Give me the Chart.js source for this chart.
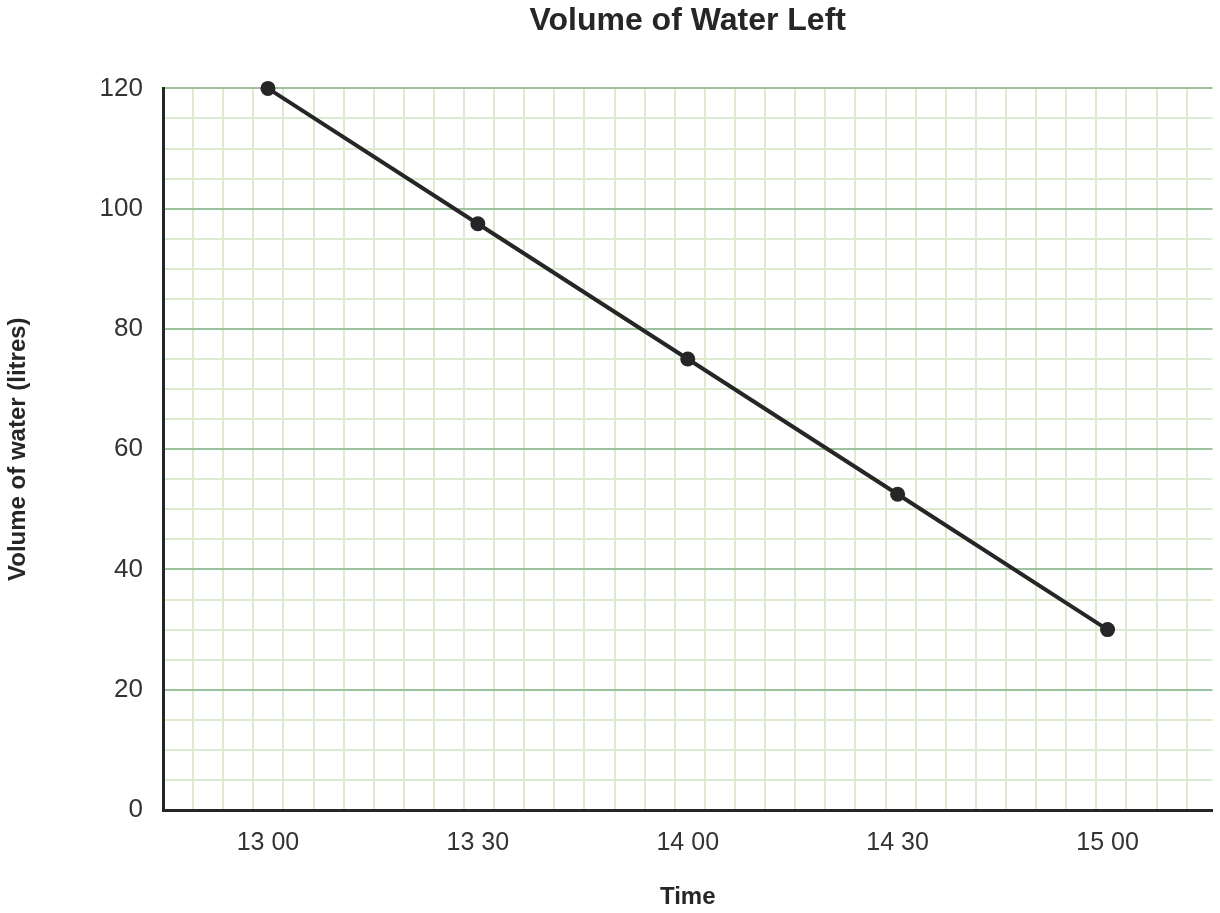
<!DOCTYPE html>
<html>
<head>
<meta charset="utf-8">
<title>Volume of Water Left</title>
<script src="https://cdn.jsdelivr.net/npm/chart.js@4.4.1/dist/chart.umd.min.js"></script>
<style>
  html, body { margin: 0; padding: 0; background: #ffffff; }
  #wrap { width: 1220px; height: 913px; position: relative; }
</style>
</head>
<body>
<div id="wrap"><canvas id="grafica"></canvas></div>
<script>
// datos de la grafica
const tiempos = ["13 00", "13 30", "14 00", "14 30", "15 00"];
const volumen = [120, 97.5, 75, 52.5, 30];
const yTicks = [0, 20, 40, 60, 80, 100, 120];

const VERDE_FUERTE = "#9cc39c";
const VERDE_SUAVE = "#dcebd0";
const NEGRO = "#262626";
const FUENTE = "'Liberation Sans', Arial, sans-serif";

function grafica_agua(id) {
  let chart = new Chart(id, {
    type: "line",
    data: {
      labels: tiempos,
      datasets: [
        {
          label: "Volume of water",
          data: volumen,
          borderColor: NEGRO,
          backgroundColor: NEGRO,
          borderWidth: 4,
          pointRadius: 7.5,
          pointBackgroundColor: NEGRO,
          pointBorderWidth: 0,
          tension: 0,
          clip: false,
          xAxisID: "x",
          yAxisID: "y",
        },
      ],
    },
    options: {
      responsive: true,
      maintainAspectRatio: false,
      animation: false,
      layout: { padding: { left: 0, right: 6, top: 0, bottom: 0 } },
      plugins: {
        legend: { display: false },
        tooltip: { enabled: false },
        title: {
          display: true,
          text: "Volume of Water Left",
          fullSize: false,
          color: NEGRO,
          font: { family: FUENTE, size: 32, weight: "bold" },
          padding: { top: 2, bottom: 48 },
        },
      },
      scales: {
        x: {
          type: "category",
          position: "bottom",
          offset: true,
          grid: { display: false, drawTicks: false },
          border: { display: true, color: NEGRO, width: 3 },
          ticks: {
            color: "#333333",
            padding: 18,
            font: { family: FUENTE, size: 25 },
          },
          title: {
            display: true,
            text: "Time",
            color: NEGRO,
            font: { family: FUENTE, size: 24, weight: "bold" },
            padding: { top: 0, bottom: 1 },
          },
          afterFit: function (scale) {
            scale.height = 103;
          },
        },
        // solo para la cuadricula vertical (34 cuadros de ~30px)
        xg: {
          type: "linear",
          position: "bottom",
          min: 0,
          max: 34.86,
          grid: { color: VERDE_SUAVE, lineWidth: 2, drawTicks: false },
          border: { display: false },
          ticks: { display: false, autoSkip: false },
          afterBuildTicks: function (scale) {
            let t = [];
            for (let k = 0; k <= 34; k++) t.push({ value: k });
            scale.ticks = t;
          },
          afterFit: function (scale) {
            scale.height = 0;
          },
        },
        y: {
          min: 0,
          max: 120,
          grid: {
            drawTicks: false,
            lineWidth: 2,
            color: (ctx) => (ctx.tick && ctx.tick.value % 20 === 0 ? VERDE_FUERTE : VERDE_SUAVE),
          },
          border: { display: true, color: NEGRO, width: 3 },
          ticks: {
            stepSize: 5,
            autoSkip: false,
            maxTicksLimit: 100,
            color: "#333333",
            padding: 20,
            font: { family: FUENTE, size: 26 },
            callback: (v) => (yTicks.includes(v) ? String(v) : ""),
          },
          title: {
            display: true,
            text: "Volume of water (litres)",
            color: NEGRO,
            font: { family: FUENTE, size: 24, weight: "bold" },
            padding: { top: 4, bottom: 0 },
          },
          afterFit: function (scale) {
            scale.width = 163;
          },
        },
      },
    },
  });
  return chart;
}

grafica_agua(document.getElementById("grafica"));
</script>
</body>
</html>
